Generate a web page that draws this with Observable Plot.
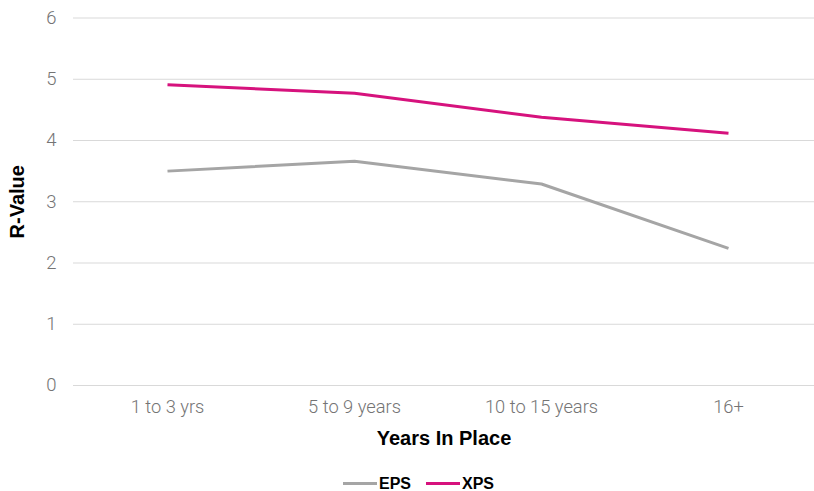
<!DOCTYPE html>
<html>
<head>
<meta charset="utf-8">
<script src="https://cdn.jsdelivr.net/npm/d3@7"></script>
<script src="https://cdn.jsdelivr.net/npm/@observablehq/plot@0.6"></script>
<style>
  html, body { margin: 0; padding: 0; background: #fff; }
  body { width: 814px; height: 491px; overflow: hidden; font-family: Roboto, "Liberation Sans", sans-serif; }
  #legend { position: relative; height: 17px; margin-top: 7px; font-family: "Liberation Sans", Arial, sans-serif; font-weight: 700; font-size: 16px; color: #000; }
  .item { position: absolute; top: 0; display: flex; align-items: center; gap: 2px; line-height: 17px; }
  .sw { width: 34px; height: 3px; display: inline-block; }
</style>
</head>
<body>
<div id="chart"></div>
<div id="legend"></div>
<script>
const categories = ["1 to 3 yrs", "5 to 9 years", "10 to 15 years", "16+"];
const seriesNames = ["EPS", "XPS"];
const eps = [3.50, 3.66, 3.29, 2.24];
const xps = [4.91, 4.77, 4.38, 4.12];
const yTicks = [0, 1, 2, 3, 4, 5, 6];
const colors = ["#a5a5a5", "#d6127d"];

const data = [];
categories.forEach((c, i) => {
  data.push({ category: c, series: "EPS", value: eps[i] });
  data.push({ category: c, series: "XPS", value: xps[i] });
});

const chart = Plot.plot({
  width: 814,
  height: 468,
  marginTop: 17.5,
  marginBottom: 83,
  marginLeft: 73,
  marginRight: 0,
  style: { fontFamily: "Roboto, sans-serif", background: "#fff" },
  x: { type: "point", domain: categories, range: [73.5, 821.5], padding: 0.5, label: null },
  y: { domain: [0, 6], label: null },
  color: { domain: seriesNames, range: colors },
  marks: [
    Plot.ruleY(yTicks, { stroke: "#d9d9d9", strokeWidth: 1.2 }),
    Plot.axisY(yTicks, { tickSize: 0, tickPadding: 17, fontSize: 18.5, fontWeight: 300, fill: "#747474", tickFormat: d3.format("d"), label: null }),
    Plot.axisX(categories, { tickSize: 0, tickPadding: 14, fontSize: 18.3, fontWeight: 300, fill: "#747474", label: null }),
    Plot.line(data, { x: "category", y: "value", z: "series", stroke: "series", strokeWidth: 3, strokeLinecap: "butt" }),
    Plot.text(["Years In Place"], { frameAnchor: "bottom", dy: 59, fontSize: 20, fontWeight: 700, fill: "#000", fontFamily: "Liberation Sans, Arial, sans-serif" }),
    Plot.text(["R-Value"], { frameAnchor: "left", textAnchor: "middle", dx: -56, rotate: -90, fontSize: 20, fontWeight: 700, fill: "#000", fontFamily: "Liberation Sans, Arial, sans-serif" })
  ]
});
document.getElementById("chart").appendChild(chart);

const legend = document.getElementById("legend");
const legendLeft = [343, 426];
seriesNames.forEach((s, i) => {
  const item = document.createElement("span");
  item.className = "item";
  item.style.left = legendLeft[i] + "px";
  const sw = document.createElement("span");
  sw.className = "sw";
  sw.style.background = colors[i];
  const t = document.createElement("span");
  t.textContent = s;
  item.appendChild(sw);
  item.appendChild(t);
  legend.appendChild(item);
});
</script>
</body>
</html>
